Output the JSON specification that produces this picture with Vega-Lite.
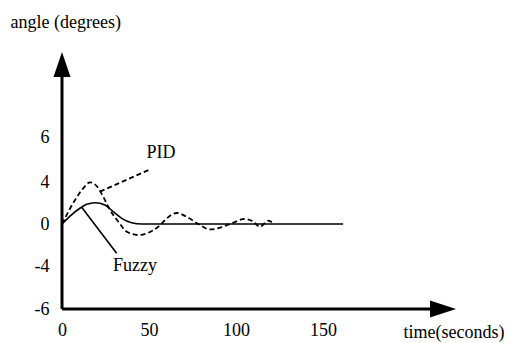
{
  "$schema": "https://vega.github.io/schema/vega-lite/v6.json",
  "width": 394,
  "height": 257,
  "autosize": "none",
  "padding": {"left": 62, "top": 52, "right": 55, "bottom": 34},
  "config": {
    "view": {"stroke": null},
    "locale": {"number": {"decimal": ".", "thousands": ",", "grouping": [3], "currency": ["$", ""], "minus": "-"}},
    "axis": {"labelFont": "Times New Roman", "titleFont": "Times New Roman", "labelColor": "black", "titleColor": "black", "labelFontSize": 18, "titleFontSize": 18, "titleFontWeight": "normal"}
  },
  "datasets": {
    "curves": [
      {"series": "Fuzzy", "t": 0, "v": 0},
      {"series": "Fuzzy", "t": 4.6, "v": 0.75},
      {"series": "Fuzzy", "t": 10.3, "v": 1.5},
      {"series": "Fuzzy", "t": 14.2, "v": 1.88},
      {"series": "Fuzzy", "t": 19, "v": 2.03},
      {"series": "Fuzzy", "t": 24.7, "v": 1.81},
      {"series": "Fuzzy", "t": 29.5, "v": 1.17},
      {"series": "Fuzzy", "t": 34.3, "v": 0.54},
      {"series": "Fuzzy", "t": 40, "v": 0.12},
      {"series": "Fuzzy", "t": 45.8, "v": 0},
      {"series": "Fuzzy", "t": 161.5, "v": 0},
      {"series": "PID", "t": 0, "v": 0},
      {"series": "PID", "t": 7.5, "v": 2.29},
      {"series": "PID", "t": 12.2, "v": 3.4},
      {"series": "PID", "t": 16.1, "v": 3.97},
      {"series": "PID", "t": 19.9, "v": 3.62},
      {"series": "PID", "t": 23.7, "v": 2.6},
      {"series": "PID", "t": 27.6, "v": 1.33},
      {"series": "PID", "t": 32.4, "v": 0.22},
      {"series": "PID", "t": 37.2, "v": -0.73},
      {"series": "PID", "t": 43.9, "v": -1.05},
      {"series": "PID", "t": 49.6, "v": -0.83},
      {"series": "PID", "t": 55.3, "v": -0.26},
      {"series": "PID", "t": 60.3, "v": 0.55},
      {"series": "PID", "t": 65.9, "v": 1.05},
      {"series": "PID", "t": 71.8, "v": 0.67},
      {"series": "PID", "t": 78.3, "v": 0},
      {"series": "PID", "t": 85, "v": -0.52},
      {"series": "PID", "t": 90.8, "v": -0.35},
      {"series": "PID", "t": 96.6, "v": 0},
      {"series": "PID", "t": 105.2, "v": 0.48},
      {"series": "PID", "t": 109.2, "v": 0.3},
      {"series": "PID", "t": 113.8, "v": -0.26},
      {"series": "PID", "t": 118.6, "v": 0.31},
      {"series": "PID", "t": 121.4, "v": 0.05}
    ],
    "leaders": [
      {"series": "Fuzzy", "t": 11.3, "v": 1.59},
      {"series": "Fuzzy", "t": 31.4, "v": -2.79},
      {"series": "PID", "t": 21.8, "v": 3.08},
      {"series": "PID", "t": 50.6, "v": 4.56}
    ],
    "notes": [
      {"label": "PID", "t": 56.9, "v": 5.29},
      {"label": "Fuzzy", "t": 42, "v": -4}
    ],
    "axisLines": [
      {"t0": 0, "v0": -6, "t1": 211.5, "v1": -6},
      {"t0": 0, "v0": -6, "t1": 0, "v1": 9}
    ],
    "arrows": [
      {"dir": "right", "t": 226.4, "v": -6},
      {"dir": "up", "t": 0, "v": 10}
    ]
  },
  "layer": [
    {
      "data": {"name": "notes"},
      "mark": {"type": "text", "fontSize": 18, "color": "black", "font": "Times New Roman"},
      "encoding": {
        "text": {"field": "label"},
        "x": {"field": "t", "type": "quantitative", "scale": {"domain": [0, 226.4], "nice": false, "zero": false},
          "axis": {"values": [0, 50, 100, 150], "labelFont": "Times New Roman", "titleFont": "Times New Roman", "domain": false, "ticks": false, "tickSize": 0, "grid": false, "labelPadding": 21, "labelBaseline": "middle", "labelFlush": false,
            "title": "time(seconds)", "titleX": 341, "titleY": 23, "titleAlign": "left", "titleBaseline": "middle", "titleAnchor": null}},
        "y": {"field": "v", "type": "quantitative", "scale": {"domain": [-6, -4, 0, 4, 6, 10], "range": [257, 214, 172, 130, 85, 0], "nice": false, "zero": false},
          "axis": {"values": [-6, -4, 0, 4, 6], "labelFont": "Times New Roman", "titleFont": "Times New Roman", "domain": false, "ticks": false, "tickSize": 0, "grid": false, "labelPadding": 13, "labelFlush": false,
            "title": "angle (degrees)", "titleAngle": 0, "titleX": -52, "titleY": -30, "titleAlign": "left", "titleBaseline": "middle", "titleAnchor": null}}
      }
    },
    {
      "data": {"name": "axisLines"},
      "mark": {"type": "rule", "color": "black", "strokeWidth": 3},
      "encoding": {
        "x": {"field": "t0", "type": "quantitative"},
        "y": {"field": "v0", "type": "quantitative"},
        "x2": {"field": "t1"},
        "y2": {"field": "v1"}
      }
    },
    {
      "data": {"name": "arrows"},
      "transform": [{"filter": "datum.dir === 'right'"}],
      "mark": {"type": "point", "filled": true, "color": "black", "opacity": 1, "size": 676, "shape": "M0,0L-2,-0.65L-2,0.65Z", "strokeWidth": 0},
      "encoding": {"x": {"field": "t", "type": "quantitative"}, "y": {"field": "v", "type": "quantitative"}}
    },
    {
      "data": {"name": "arrows"},
      "transform": [{"filter": "datum.dir === 'up'"}],
      "mark": {"type": "point", "filled": true, "color": "black", "opacity": 1, "size": 625, "shape": "M0,0L0.68,2L-0.68,2Z", "strokeWidth": 0},
      "encoding": {"x": {"field": "t", "type": "quantitative"}, "y": {"field": "v", "type": "quantitative"}}
    },
    {
      "data": {"name": "curves"},
      "transform": [{"filter": "datum.series === 'Fuzzy'"}],
      "mark": {"type": "line", "color": "black", "strokeWidth": 1.6, "interpolate": "monotone"},
      "encoding": {"x": {"field": "t", "type": "quantitative"}, "y": {"field": "v", "type": "quantitative"}}
    },
    {
      "data": {"name": "curves"},
      "transform": [{"filter": "datum.series === 'PID'"}],
      "mark": {"type": "line", "color": "black", "strokeWidth": 1.8, "strokeDash": [5, 3], "interpolate": "monotone"},
      "encoding": {"x": {"field": "t", "type": "quantitative"}, "y": {"field": "v", "type": "quantitative"}}
    },
    {
      "data": {"name": "leaders"},
      "transform": [{"filter": "datum.series === 'Fuzzy'"}],
      "mark": {"type": "line", "color": "black", "strokeWidth": 1.6},
      "encoding": {"x": {"field": "t", "type": "quantitative"}, "y": {"field": "v", "type": "quantitative"}}
    },
    {
      "data": {"name": "leaders"},
      "transform": [{"filter": "datum.series === 'PID'"}],
      "mark": {"type": "line", "color": "black", "strokeWidth": 1.8, "strokeDash": [5, 3]},
      "encoding": {"x": {"field": "t", "type": "quantitative"}, "y": {"field": "v", "type": "quantitative"}}
    }
  ]
}
